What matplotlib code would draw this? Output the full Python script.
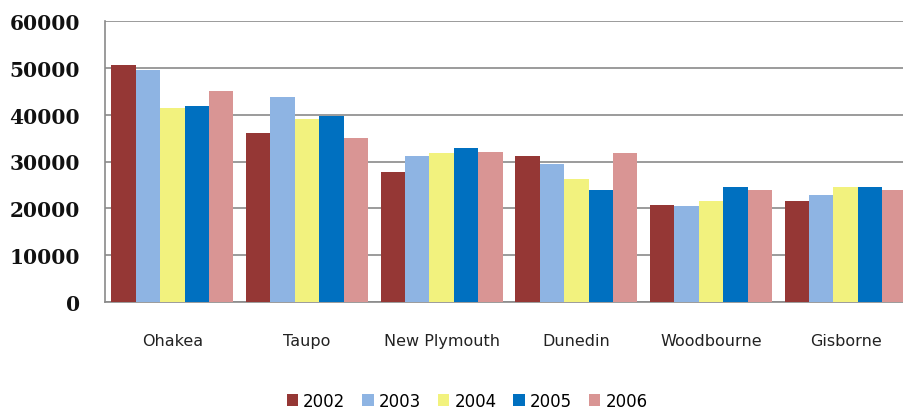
import numpy as np
import matplotlib.pyplot as plt

# stations and yearly values
stations = ['Ohakea', 'Taupo', 'New Plymouth', 'Dunedin', 'Woodbourne', 'Gisborne']
years = ['2002', '2003', '2004', '2005', '2006']

v2002 = [50500, 36000, 27700, 31100, 20800, 21500]
v2003 = [49500, 43700, 31100, 29500, 20500, 22900]
v2004 = [41300, 39000, 31800, 26300, 21600, 24600]
v2005 = [41800, 39800, 32800, 23900, 24600, 24600]
v2006 = [45000, 35000, 32100, 31800, 23900, 23900]

yticks = [0, 10000, 20000, 30000, 40000, 50000, 60000]

series = [v2002, v2003, v2004, v2005, v2006]
colors = ['#953735', '#8EB4E3', '#F2F27E', '#0070C0', '#D99594']

fig = plt.figure(figsize=(9.04, 4.14), dpi=100)
# plot area runs off the right edge, like the cropped original
ax = fig.add_axes([105 / 904, 110.7 / 414, 808 / 904, 281.6 / 414])

x = np.arange(len(stations))
width = 0.181
for i, (vals, col) in enumerate(zip(series, colors)):
    ax.bar(x + (i - 2) * width, vals, width=width, color=col,
           label=years[i], zorder=3)

ax.set_xlim(-0.5, len(stations) - 0.5)
ax.set_ylim(0, 60000)
ax.set_yticks(yticks)
ax.set_yticklabels([str(t) for t in yticks], family='DejaVu Serif',
                   fontweight='bold', fontsize=14.5, color='#111111')
ax.set_xticks(x)
ax.set_xticklabels(stations, fontsize=11.5, color='#222222')

ax.yaxis.grid(True, color='#8a8a8a', linewidth=1.2, zorder=0)
ax.tick_params(axis='y', length=0, pad=18)
ax.tick_params(axis='x', length=0, pad=22)

for s in ['top', 'right']:
    ax.spines[s].set_visible(False)
for s in ['left', 'bottom']:
    ax.spines[s].set_color('#8a8a8a')
    ax.spines[s].set_linewidth(1.2)

fig.legend(loc='center', bbox_to_anchor=(467 / 904, 12 / 414), ncol=5,
           frameon=False, fontsize=12, handlelength=0.7, handleheight=0.7,
           handletextpad=0.3, columnspacing=1.0, borderpad=0)

fig.savefig('out.png', dpi=100)
